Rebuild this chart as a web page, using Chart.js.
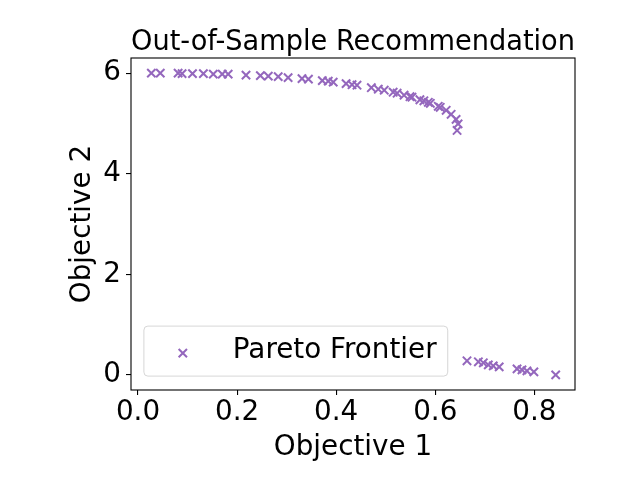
<!DOCTYPE html>
<html>
<head>
<meta charset="utf-8">
<script src="https://cdn.jsdelivr.net/npm/chart.js@4.4.1/dist/chart.umd.min.js"></script>
<style>
  html, body { margin: 0; padding: 0; background: #fff; }
  #wrap { width: 640px; height: 480px; }
</style>
</head>
<body>
<div id="wrap"><canvas id="paretoChart" width="640" height="480"></canvas></div>
<script>
// Values
const objective1 = [0.027, 0.045, 0.081, 0.089, 0.110, 0.132, 0.152, 0.170, 0.182, 0.218,
                    0.247, 0.263, 0.283, 0.303, 0.331, 0.344, 0.372, 0.384, 0.394, 0.420,
                    0.432, 0.442, 0.471, 0.485, 0.497, 0.515, 0.523, 0.537, 0.549, 0.553,
                    0.569, 0.577, 0.586, 0.590, 0.606, 0.610, 0.622, 0.632, 0.642, 0.646,
                    0.644,
                    0.664, 0.687, 0.697, 0.707, 0.717, 0.729, 0.765, 0.775, 0.785, 0.799,
                    0.843];
const objective2 = [6.00, 6.00, 6.00, 5.99, 5.99, 5.99, 5.98, 5.98, 5.98, 5.96,
                    5.95, 5.94, 5.93, 5.91, 5.89, 5.88, 5.85, 5.84, 5.82, 5.79,
                    5.77, 5.76, 5.71, 5.68, 5.66, 5.62, 5.60, 5.56, 5.53, 5.52,
                    5.47, 5.45, 5.42, 5.40, 5.34, 5.32, 5.26, 5.18, 5.08, 4.99,
                    4.86,
                    0.28, 0.26, 0.24, 0.20, 0.18, 0.16, 0.12, 0.10, 0.08, 0.06,
                    0.00];
const xTicks = [0.0, 0.2, 0.4, 0.6, 0.8];
const yTicks = [0, 2, 4, 6];
const chartTitle = 'Out-of-Sample Recommendation';
const xLabel = 'Objective 1';
const yLabel = 'Objective 2';
const seriesName = 'Pareto Frontier';

const purple = '#9467bd';
const fontFamily = "'DejaVu Sans', 'Liberation Sans', sans-serif";
const fontSize = 27.8;

// full box around the axes, like the matplotlib spines
const framePlugin = {
    id: 'frame',
    afterDraw(chart) {
        const {ctx, chartArea: a} = chart;
        ctx.save();
        ctx.strokeStyle = '#000';
        ctx.lineWidth = 1.1;
        ctx.strokeRect(a.left, a.top, a.right - a.left, a.bottom - a.top);
        ctx.restore();
    }
};

// legend box in the lower left corner of the axes
const innerLegend = {
    id: 'innerLegend',
    afterDraw(chart) {
        const {ctx, chartArea: a} = chart;
        const ds = chart.data.datasets[0];
        ctx.save();
        ctx.font = fontSize + 'px ' + fontFamily;
        const tw = ctx.measureText(ds.label).width;
        const pad = 0.4 * fontSize;
        const w = pad + 2.0 * fontSize + 0.8 * fontSize + tw + pad;
        const h = 50;
        const x0 = a.left + 0.5 * fontSize - 1;
        const y0 = a.bottom - 0.5 * fontSize - h;
        ctx.beginPath();
        ctx.roundRect(x0, y0, w, h, 4);
        ctx.fillStyle = 'rgba(255,255,255,0.8)';
        ctx.fill();
        ctx.strokeStyle = 'rgba(204,204,204,0.8)';
        ctx.lineWidth = 1;
        ctx.stroke();

        // marker
        const mx = x0 + pad + fontSize;
        const my = y0 + h / 2 + 2;
        const r = ds.pointRadius * Math.SQRT1_2;
        ctx.beginPath();
        ctx.moveTo(mx - r, my - r); ctx.lineTo(mx + r, my + r);
        ctx.moveTo(mx + r, my - r); ctx.lineTo(mx - r, my + r);
        ctx.strokeStyle = purple;
        ctx.lineWidth = ds.borderWidth;
        ctx.stroke();

        ctx.fillStyle = '#000';
        ctx.textBaseline = 'middle';
        ctx.textAlign = 'left';
        ctx.fillText(ds.label, x0 + pad + 2.8 * fontSize, y0 + h / 2);
        ctx.restore();
    }
};

const tickFont = {family: fontFamily, size: fontSize, lineHeight: 1};

const ctx = document.getElementById('paretoChart').getContext('2d');
new Chart(ctx, {
    type: 'scatter',
    data: {
        datasets: [{
            label: seriesName,
            data: objective1.map((x, i) => ({x: x, y: objective2[i]})),
            pointStyle: 'crossRot',
            pointRadius: 5.9,
            pointHoverRadius: 5.9,
            borderColor: purple,
            backgroundColor: purple,
            borderWidth: 2
        }]
    },
    options: {
        responsive: false,
        animation: false,
        layout: { padding: { left: 0, right: 65, top: 0, bottom: 0 } },
        plugins: {
            legend: { display: false },
            tooltip: { enabled: false },
            title: {
                display: true,
                text: chartTitle,
                fullSize: false,
                color: '#000',
                font: { family: fontFamily, size: fontSize, weight: 'normal', lineHeight: 1 },
                padding: { top: 29, bottom: 1.2 }
            }
        },
        scales: {
            x: {
                type: 'linear',
                min: -0.0141,
                max: 0.882,
                afterBuildTicks: s => { s.ticks = xTicks.map(v => ({value: v})); },
                afterFit: s => { s.height = 90; },
                ticks: {
                    color: '#000', font: tickFont, padding: 4, maxRotation: 0,
                    callback: v => v.toFixed(1)
                },
                grid: { drawOnChartArea: false, drawTicks: true, tickLength: 5, color: '#000', lineWidth: 1.1 },
                border: { display: false },
                title: {
                    display: true, text: xLabel, color: '#000',
                    font: { family: fontFamily, size: fontSize, lineHeight: 1 },
                    padding: { top: 0, bottom: 18.5 }
                }
            },
            y: {
                type: 'linear',
                min: -0.3,
                max: 6.3,
                afterBuildTicks: s => { s.ticks = yTicks.map(v => ({value: v})); },
                afterFit: s => { s.width = 131; },
                ticks: {
                    color: '#000', font: tickFont, padding: 5,
                    callback: v => String(v)
                },
                grid: { drawOnChartArea: false, drawTicks: true, tickLength: 5, color: '#000', lineWidth: 1.1 },
                border: { display: false },
                title: {
                    display: true, text: yLabel, color: '#000',
                    font: { family: fontFamily, size: fontSize, lineHeight: 1 },
                    padding: { top: 69, bottom: 0 }
                }
            }
        }
    },
    plugins: [framePlugin, innerLegend]
});
</script>
</body>
</html>
